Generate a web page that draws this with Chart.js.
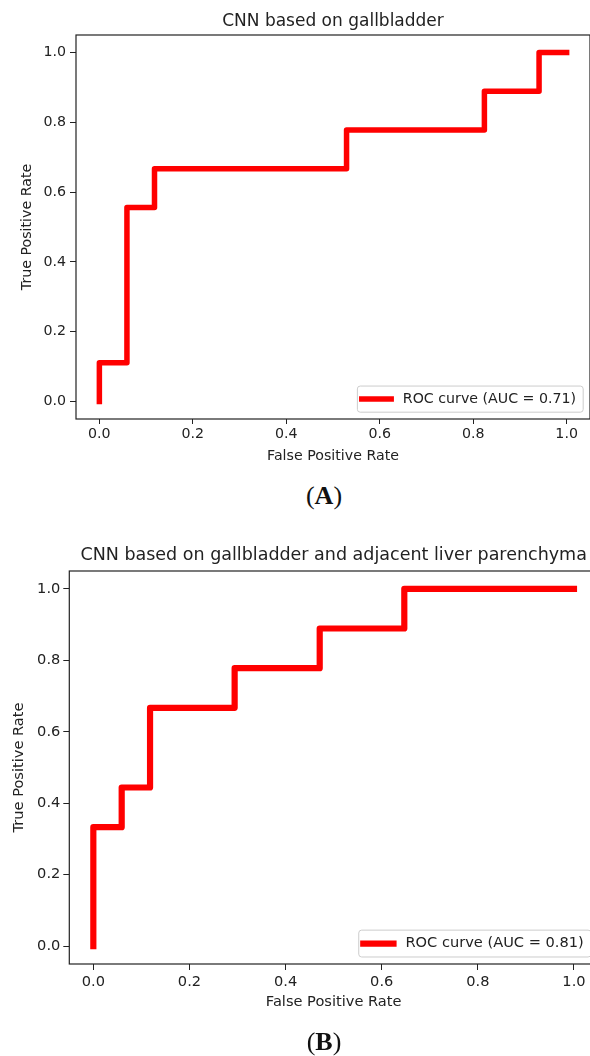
<!DOCTYPE html>
<html><head><meta charset="utf-8">
<script src="https://cdn.jsdelivr.net/npm/chart.js@4.4.1/dist/chart.umd.min.js"></script>
<style>
html,body{margin:0;padding:0;background:#fff;overflow:hidden;width:590px;height:1056px;position:relative;}
canvas{position:absolute;left:0;}
#cA{top:0;} #cB{top:520px;}
.cap{position:absolute;font-family:"Liberation Serif","DejaVu Serif",serif;font-size:26px;color:#111;transform:translate(-50%,-50%);white-space:nowrap;line-height:1;}
.cap b{font-weight:bold;}
</style></head><body>
<canvas id="cA" width="600" height="470"></canvas>
<div class="cap" style="left:324px;top:496px">(<b>A</b>)</div>
<canvas id="cB" width="610" height="536"></canvas>
<div class="cap" style="left:324px;top:1042px">(<b>B</b>)</div>
<script>
// ---- data ----
const tickValues = [0, 0.2, 0.4, 0.6, 0.8, 1.0];
const fprA = [0, 0, 0.059, 0.059, 0.118, 0.118, 0.529, 0.529, 0.824, 0.824, 0.941, 0.941, 1];
const tprA = [0, 0.111, 0.111, 0.556, 0.556, 0.667, 0.667, 0.778, 0.778, 0.889, 0.889, 1, 1];
const fprB = [0, 0, 0.059, 0.059, 0.118, 0.118, 0.294, 0.294, 0.471, 0.471, 0.647, 0.647, 1];
const tprB = [0, 0.333, 0.333, 0.444, 0.444, 0.667, 0.667, 0.778, 0.778, 0.889, 0.889, 1, 1];
const titleA = 'CNN based on gallbladder';
const titleB = 'CNN based on gallbladder and adjacent liver parenchyma';
const legendA = 'ROC curve (AUC = 0.71)';
const legendB = 'ROC curve (AUC = 0.81)';
const xLabel = 'False Positive Rate';
const yLabel = 'True Positive Rate';

Chart.defaults.font.family = '"DejaVu Sans", sans-serif';
const TXT = '#222';

const frameLegend = {
  id: 'frameLegend',
  afterDatasetsDraw(chart, args, opts) {
    const {ctx, chartArea: a} = chart;
    ctx.save();
    ctx.strokeStyle = TXT; ctx.lineWidth = 1.2;
    ctx.strokeRect(a.left, a.top, a.right - a.left, a.bottom - a.top);
    const ds = chart.data.datasets[0];
    const fs = opts.fontSize;
    ctx.font = fs + 'px "DejaVu Sans"';
    const tw = ctx.measureText(ds.label).width;
    const h = 1.84 * fs, w = 3.2 * fs + tw + 0.5 * fs;
    const right = a.right - 0.48 * fs, bottom = a.bottom - 0.48 * fs;
    const x0 = right - w, y0 = bottom - h, r = 0.2 * fs;
    ctx.beginPath();
    ctx.moveTo(x0 + r, y0); ctx.lineTo(x0 + w - r, y0); ctx.arcTo(x0 + w, y0, x0 + w, y0 + r, r);
    ctx.lineTo(x0 + w, y0 + h - r); ctx.arcTo(x0 + w, y0 + h, x0 + w - r, y0 + h, r);
    ctx.lineTo(x0 + r, y0 + h); ctx.arcTo(x0, y0 + h, x0, y0 + h - r, r);
    ctx.lineTo(x0, y0 + r); ctx.arcTo(x0, y0, x0 + r, y0, r); ctx.closePath();
    ctx.fillStyle = 'rgba(255,255,255,0.8)'; ctx.fill();
    ctx.strokeStyle = '#cccccc'; ctx.lineWidth = 1; ctx.stroke();
    const cy = y0 + h / 2;
    ctx.beginPath();
    ctx.strokeStyle = ds.borderColor; ctx.lineWidth = ds.borderWidth; ctx.lineCap = 'square';
    ctx.moveTo(x0 + 0.31 * fs, cy); ctx.lineTo(x0 + 2.38 * fs, cy); ctx.stroke();
    ctx.fillStyle = TXT; ctx.textBaseline = 'middle'; ctx.textAlign = 'left';
    ctx.fillText(ds.label, x0 + 3.2 * fs, cy);
    ctx.restore();
  }
};

function makeChart(id, fpr, tpr, title, label, c) {
  const pts = fpr.map((x, i) => ({x: x, y: tpr[i]}));
  return new Chart(document.getElementById(id), {
    type: 'line',
    data: { datasets: [{ label: label, data: pts, borderColor: '#ff0000', borderWidth: c.lw,
      pointRadius: 0, tension: 0, fill: false, borderCapStyle: 'square', borderJoinStyle: 'round' }] },
    options: {
      responsive: false, animation: false, devicePixelRatio: 1,
      layout: { padding: { left: 0, right: c.W - c.right, top: 0, bottom: c.H - c.bottom - c.xH } },
      plugins: {
        legend: { display: false }, tooltip: { enabled: false },
        title: { display: true, fullSize: false, text: title, color: TXT, font: { size: c.tfs, weight: 'normal' },
          padding: { top: c.tpt, bottom: c.tpb } },
        frameLegend: { fontSize: c.fs }
      },
      scales: {
        x: { type: 'linear', min: -0.05, max: 1.05,
          afterBuildTicks: s => { s.ticks = tickValues.map(v => ({value: v})); },
          afterFit: s => { s.height = c.xH; },
          grid: { display: true, drawOnChartArea: false, drawTicks: true, tickLength: c.xtl, color: TXT, tickColor: TXT, lineWidth: 1 },
          border: { display: false },
          ticks: { padding: c.xp, color: TXT, font: { size: c.fs }, maxRotation: 0, autoSkip: false, callback: v => v.toFixed(1) },
          title: { display: true, text: xLabel, color: TXT, font: { size: c.fs }, padding: { top: 0, bottom: c.xtp } } },
        y: { type: 'linear', min: -0.05, max: 1.05,
          afterBuildTicks: s => { s.ticks = tickValues.map(v => ({value: v})); },
          afterFit: s => { s.width = c.yW; },
          grid: { display: true, drawOnChartArea: false, drawTicks: true, tickLength: c.ytl, color: TXT, tickColor: TXT, lineWidth: 1 },
          border: { display: false },
          ticks: { padding: c.yp, color: TXT, font: { size: c.fs }, autoSkip: false, callback: v => v.toFixed(1) },
          title: { display: true, text: yLabel, color: TXT, font: { size: c.fs }, padding: { top: c.ytp, bottom: 0 } } }
      }
    },
    plugins: [frameLegend]
  });
}

makeChart('cA', fprA, tprA, titleA, legendA,
  { W: 600, H: 470, right: 590, bottom: 419, xH: 50, yW: 76, tfs: 17, tpt: 11, tpb: 3.6,
    fs: 14.2, lw: 5.5, xtl: 5, xp: 2, ytl: 6, yp: 4, xtp: 4.6, ytp: 19.1 });
makeChart('cB', fprB, tprB, titleB, legendB,
  { W: 610, H: 536, right: 598, bottom: 444, xH: 60, yW: 69.3, tfs: 17.5, tpt: 24.5, tpb: 5.5,
    fs: 14.6, lw: 6.2, xtl: 6, xp: 3.8, ytl: 6, yp: 3, xtp: 13.3, ytp: 10.8 });
</script>
</body></html>
